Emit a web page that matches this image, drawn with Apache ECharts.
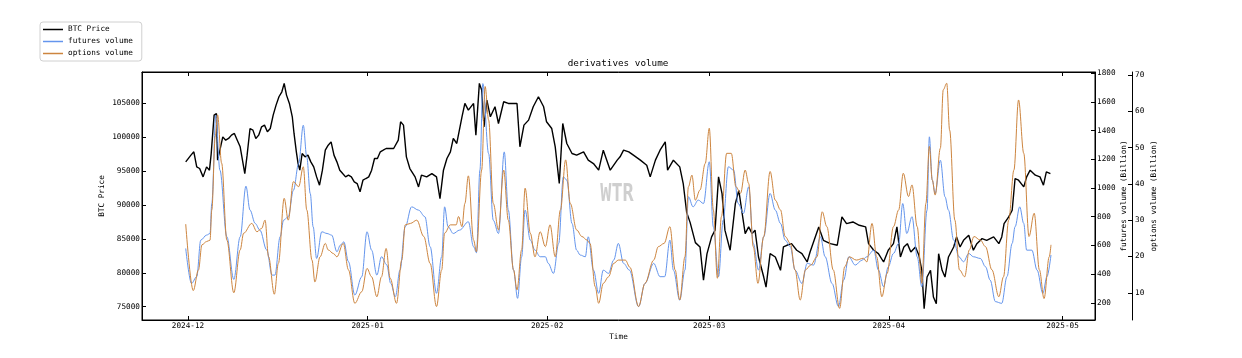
<!DOCTYPE html>
<html>
<head>
<meta charset="utf-8">
<script src="https://cdn.jsdelivr.net/npm/echarts@6/dist/echarts.min.js"></script>
<style>
html,body{margin:0;padding:0;background:#fff;}
#chart{width:1242px;height:358px;}
</style>
</head>
<body>
<div id="chart"></div>
<script>
// x positions are day offsets from 2024-12-01
const monthTicks = [0, 31, 62, 90, 121, 151];
const monthLabels = ['2024-12', '2025-01', '2025-02', '2025-03', '2025-04', '2025-05'];
const priceTicks = [75000, 80000, 85000, 90000, 95000, 100000, 105000];
const futuresTicks = [200, 400, 600, 800, 1000, 1200, 1400, 1600, 1800];
const optionsTicks = [10, 20, 30, 40, 50, 60, 70];
const seriesNames = ['BTC Price', 'futures volume', 'options volume'];

const btcPrice = [
[-0.4,96380],[0.5,97370],[1.0,97860],[1.5,95640],[2.0,95400],[2.6,94160],[3.2,95640],[3.7,95150],[4.0,97600],[4.5,103280],[4.9,103520],[5.1,96630],[5.5,98100],[6.0,100070],[6.5,99580],[7.0,99830],[7.5,100320],[8.0,100570],[8.5,99580],[9.0,98600],[9.3,97120],[9.8,94650],[10.2,97370],[10.7,101300],[11.2,101060],[11.7,99830],[12.2,100320],[12.7,101550],[13.2,101800],[13.7,100810],[14.2,101300],[14.7,103280],[15.2,104750],[15.7,105990],[16.2,106720],[16.6,107960],[17.0,106230],[17.5,105000],[18.0,103030],[18.3,100570],[18.7,97860],[19.0,96130],[19.3,95150],[19.7,97610],[20.2,97120],[20.7,97370],[21.2,96380],[21.7,95640],[22.2,94160],[22.7,92930],[23.2,95150],[23.7,98100],[24.2,98840],[24.7,99330],[25.2,97370],[25.7,96380],[26.2,95150],[26.7,94650],[27.2,94160],[27.7,94410],[28.2,94160],[28.7,93420],[29.2,93180],[29.7,91950],[30.2,93670],[30.7,93920],[31.2,94160],[31.7,95150],[32.2,96870],[32.7,96870],[33.2,97860],[33.7,98100],[34.2,98350],[34.7,98350],
[35.5,98350],[36.3,99580],[36.7,102290],[37.2,101800],[37.7,97120],[38.3,95390],[39.2,94160],[39.8,92680],[40.3,94410],[41.2,94160],[42.1,94650],[42.9,94160],[43.5,90960],[44.1,95150],[44.7,96870],[45.3,97860],[45.8,99830],[46.4,99090],[47.3,103030],[47.8,105000],[48.4,104010],[49.3,105000],[49.7,100320],[50.3,107960],[50.7,106970],[51.1,101550],[51.6,105490],[52.2,103030],[53.0,104510],[53.6,102040],[54.5,105250],[55.3,105000],[56.2,105000],[56.8,105000],[57.3,98600],[58.0,101800],[58.8,102540],[59.6,104510],[60.5,105990],[61.4,104510],[61.9,102290],[62.8,101300],[63.4,98600],[64.1,93180],[64.7,102040],[65.4,99090],[66.3,97610],[67.1,97370],[68.3,97860],[69.1,96630],[70.0,96130],[70.9,95150],[71.7,98100],[72.9,95150],[74.1,96630],
[74.6,97120],[75.2,98100],[76.1,97860],[76.9,97370],[78.1,96630],[79.2,95880],[79.8,94160],[80.7,96630],[81.5,98100],[82.4,99330],[82.8,95150],[83.8,96630],[84.9,95640],[85.5,93180],[86.1,88890],[86.7,87410],[87.6,84460],[88.4,83820],[89.0,78910],[89.6,82800],[90.4,85300],[91.0,86300],[91.6,94160],[92.2,91700],[92.7,86300],[93.6,83330],[94.5,90220],[95.1,92190],[95.6,89240],[96.2,85790],[96.8,86780],[97.4,85790],[97.9,86300],[98.5,82340],[99.4,79380],[99.8,77900],[100.5,82830],[101.4,82340],[102.3,80370],[102.8,83820],[103.4,84070],[104.2,84310],[105.1,83330],[106.0,82830],[106.9,81600],[107.4,83070],[108.9,86780],[109.7,84800],[110.9,84310],[112.1,84070],[112.9,88250],[113.7,87260],[114.8,87510],[115.9,87020],
[117.0,86780],[117.5,84310],[118.4,83330],[119.2,82830],[120.1,81600],[120.9,83330],[121.8,84310],[122.4,86780],[123.0,82340],[123.6,83820],[124.2,84310],[124.8,83070],[125.6,83820],[126.2,82590],[126.7,80370],[127.1,74700],[127.6,79380],[128.2,80370],[128.7,76430],[129.2,75440],[129.6,82830],[130.2,80370],[130.7,79380],[131.3,82340],[132.2,83820],[132.7,85300],[133.3,83820],[133.9,84800],[134.8,85540],[135.6,83330],[136.2,84310],[137.1,85050],[137.9,84800],[139.1,85300],[140.0,84310],[140.5,85300],[140.9,87260],[141.7,88250],[142.3,89240],[142.8,93920],[143.4,93670],[144.3,92680],[144.8,94160],[145.4,95150],[146.3,94410],[147.1,94160],[147.7,92930],[148.2,94900],[148.9,94650]
];

const futuresVolume = [
[-0.4,579],[0.6,335],[1.5,382],[2.2,637],[3.2,672],[3.8,683],[4.1,892],[4.8,1508],[5.5,1125],[6.7,660],[7.9,363],[9.0,660],[10.0,1013],[10.7,846],[11.6,753],[12.4,707],[13.6,567],[14.5,393],[15.0,393],[15.9,660],[16.5,776],[17.3,800],[18.2,985],[19.1,1171],[19.9,1438],[20.5,1217],[21.1,962],[21.6,730],[22.2,509],[23.1,695],[24.0,683],[24.8,672],[25.7,556],[26.3,602],[26.9,625],[27.7,486],[28.8,254],[30.0,382],[30.9,695],[31.7,567],[32.6,393],[33.4,521],[34.3,465],[35.0,335],[35.8,242],[36.6,428],[37.5,730],[38.6,869],[39.8,846],[40.9,800],[41.8,591],[42.9,266],[43.8,521],[44.3,869],[44.9,730],[45.8,683],[46.9,707],[48.4,765],[49.3,591],[49.8,549],[50.4,1125],[50.9,1728],[51.9,1240],[52.7,776],[53.6,683],[54.6,1252],[55.3,846],[56.2,428],[56.9,231],[57.6,521],[58.2,846],[59.1,637],[59.9,567],[60.8,521],[61.7,521],[62.2,475],[63.1,405],[64.0,614],[64.8,1078],[65.4,1055],[66.3,753],[67.1,567],[67.7,533],[68.6,521],[69.1,660],[70.0,428],[70.9,266],[71.7,428],[72.6,405],[73.5,498],[74.3,614],[75.2,475],[76.2,428],[77.8,173],[78.9,335],[80.4,475],[81.5,382],[82.3,382],[83.2,637],[83.8,428],[84.9,219],[85.8,428],[86.4,939],[87.2,869],[88.1,916],[89.0,892],[90.0,1183],[90.7,730],[91.6,382],[92.4,776],[93.3,1148],[94.2,1125],[95.0,892],[95.9,823],[96.8,1008],[97.6,614],[98.5,428],[99.4,660],[100.5,962],[101.4,846],[102.3,753],[103.1,637],[104.0,591],[104.8,428],[106.0,335],[106.9,475],[108.0,463],[109.2,660],[110.0,521],[111.2,335],[112.3,173],[113.2,358],[114.1,521],[115.2,463],[116.4,498],[117.2,521],[118.4,567],[119.2,428],[120.1,312],[120.9,451],[121.8,544],[122.7,614],[123.4,892],[124.1,683],[125.0,800],[125.9,521],[126.7,312],[127.6,846],[128.0,1357],[128.5,1055],[129.0,962],[129.9,1194],[130.7,939],[131.3,846],[132.2,637],[133.1,521],[133.9,486],[134.8,544],[135.6,521],[136.8,509],[137.7,451],[138.5,358],[139.4,208],[140.5,196],[141.4,382],[142.3,614],[142.8,730],[143.6,869],[144.3,753],[144.8,567],[145.7,567],[146.6,428],[147.6,266],[148.3,382],[149.0,533]
];

const optionsVolume = [
[-0.4,28.9],[0.9,10.6],[1.8,16.3],[2.4,23.2],[3.2,24.1],[3.8,24.5],[4.1,32.8],[4.7,53],[5.1,59],[5.8,45.7],[6.7,24.5],[7.9,10],[9.0,21.8],[9.6,26.4],[11.0,29.1],[11.9,26.8],[12.7,27.7],[13.3,30],[13.9,19.9],[14.9,9.6],[15.6,18.1],[16.6,36],[17.3,30],[18.2,40.6],[19.1,39.2],[19.9,44.7],[20.5,32.8],[21.4,19],[21.9,13],[22.8,19.9],[23.7,23.6],[24.2,21.8],[25.1,20.8],[25.7,19.9],[26.8,23.6],[27.7,16.3],[28.8,7.1],[30.0,10.3],[30.9,16.7],[31.7,14.4],[32.6,8.9],[33.4,14.4],[34.2,22.2],[34.9,14],[36.0,7.1],[36.9,19],[37.5,28.7],[38.4,29.1],[39.5,30],[40.7,25.5],[41.8,18.1],[42.9,6.2],[43.8,16.3],[44.3,26.4],[45.3,28.7],[46.3,28.7],[46.7,31],[47.3,28.2],[47.8,34.6],[48.4,42.2],[49.3,24.5],[49.8,21.3],[50.7,43.8],[51.3,66.8],[51.9,57.6],[52.7,34.6],[53.6,27.3],[54.5,43.8],[55.3,30],[56.2,16.3],[56.8,10.8],[57.6,21.8],[58.2,38.8],[59.1,26.4],[59.9,19.9],[60.8,26.8],[61.7,22.7],[62.5,28.7],[63.4,19.9],[64.3,32.8],[65.2,46.6],[66.0,34.6],[67.1,27.3],[68.0,25.5],[68.9,24.5],[69.4,23.6],[70.3,11.7],[70.9,7.1],[71.7,12.6],[72.6,14.4],[73.5,18.1],[74.3,19],[75.5,19],[76.3,17],[77.8,6.2],[78.9,12.6],[80.4,19],[81.2,22.7],[82.2,23.6],[83.2,28.2],[84.1,16.3],[84.9,8],[85.8,19.9],[86.4,39.2],[87.0,42.4],[87.6,35.5],[88.4,38.3],[89.3,45.6],[90.0,55.3],[90.7,32.8],[91.4,14],[92.1,31],[93.0,48.4],[93.8,48.4],[94.6,39.2],[95.4,37.4],[96.2,43.8],[96.8,40.1],[97.6,22.7],[98.4,12.6],[99.4,25.5],[100.5,43.4],[101.4,35.5],[102.3,32.8],[103.1,25.5],[104.0,23.6],[104.8,16.3],[105.7,8],[106.6,16.3],[107.5,17.6],[108.6,19.9],[109.5,32.3],[110.3,28.2],[111.4,16.3],[112.5,5.7],[113.4,17.2],[114.2,19.9],[115.4,19],[116.6,19.5],[117.2,18.5],[118.1,29.1],[118.9,19.9],[119.8,8.9],[120.7,15.3],[121.8,28.2],[122.7,32.8],[123.5,42.9],[124.4,36.5],[125.0,39.7],[125.9,28.2],[126.7,12.6],[127.4,34.6],[128.0,50.3],[128.5,41.1],[129.0,36.9],[129.9,49.8],[130.4,65.9],[131.0,67.7],[131.5,54.8],[132.4,30],[133.2,16.3],[134.1,14.4],[134.9,21.8],[135.7,25.5],[136.8,24.5],[137.7,22.7],[138.8,16.3],[140.0,8.9],[140.8,14.4],[141.7,30],[142.6,43.8],[143.4,63.1],[144.3,48.4],[145.2,25.5],[146.1,31.9],[147.0,16.3],[147.8,8.4],[148.7,19.9],[149.0,23.2]
];

const FONT = 'DejaVu Sans Mono';
const chart = echarts.init(document.getElementById('chart'), null, {renderer: 'canvas'});

function tickAxis(extra) {
  return Object.assign({
    axisLine: {show: true, onZero: false, lineStyle: {color: '#000', width: 1}},
    splitLine: {show: false},
    nameMoveOverlap: false,
    nameTextStyle: {fontFamily: FONT, fontSize: 7.7, color: '#000'}
  }, extra);
}
const plain = v => String(v);

const option = {
  animation: false,
  backgroundColor: '#fff',
  textStyle: {fontFamily: FONT},
  grid: {left: 142, top: 72, width: 953, height: 248, show: true, borderColor: '#000', borderWidth: 1, backgroundColor: 'transparent'},
  legend: {
    orient: 'vertical', left: 40, top: 22,
    padding: [2.5, 9, 2.5, 3], itemGap: 2, itemWidth: 20, itemHeight: 1.5,
    icon: 'rect', borderColor: '#d0d0d0', borderWidth: 1, borderRadius: 3,
    backgroundColor: '#fff',
    textStyle: {fontFamily: FONT, fontSize: 7.7, color: '#000', lineHeight: 10},
    data: seriesNames
  },
  xAxis: [
    tickAxis({
      type: 'value', min: -7.95, max: 156.6, position: 'bottom',
      name: 'Time', nameLocation: 'middle', nameGap: 13,
      axisTick: {show: true, inside: true, length: 4, customValues: monthTicks, lineStyle: {color: '#000'}},
      axisLabel: {show: true, margin: 2, fontFamily: FONT, fontSize: 7.7, color: '#000', customValues: monthTicks,
        formatter: v => monthLabels[monthTicks.indexOf(v)] || ''}
    }),
    tickAxis({
      type: 'value', min: -7.95, max: 156.6, position: 'top',
      axisTick: {show: true, inside: true, length: 4, customValues: monthTicks, lineStyle: {color: '#000'}},
      axisLabel: {show: false}
    })
  ],
  yAxis: [
    tickAxis({
      type: 'value', min: 73040, max: 109640, position: 'left',
      name: 'BTC Price', nameLocation: 'middle', nameGap: 36, nameRotate: 90,
      axisTick: {show: true, inside: true, length: 4, customValues: priceTicks, lineStyle: {color: '#000'}},
      axisLabel: {show: true, margin: 2, fontFamily: FONT, fontSize: 7.7, color: '#000', customValues: priceTicks, formatter: plain}
    }),
    tickAxis({
      type: 'value', min: 80, max: 1809, position: 'right',
      name: 'futures volume (Billion)', nameLocation: 'middle', nameGap: 25, nameRotate: 90,
      axisTick: {show: true, inside: true, length: 4, customValues: futuresTicks, lineStyle: {color: '#000'}},
      axisLabel: {show: true, margin: 2, fontFamily: FONT, fontSize: 7.7, color: '#000', customValues: futuresTicks, formatter: plain}
    }),
    tickAxis({
      type: 'value', min: 2.5, max: 70.8, position: 'right', offset: 37,
      name: 'options volume (Billion)', nameLocation: 'middle', nameGap: 18, nameRotate: 90,
      axisTick: {show: true, inside: true, length: 4, customValues: optionsTicks, lineStyle: {color: '#000'}},
      axisLabel: {show: true, margin: 3, fontFamily: FONT, fontSize: 7.7, color: '#000', customValues: optionsTicks, formatter: plain}
    })
  ],
  graphic: [
    {type: 'text', x: 617, y: 194.5, z: 0, scaleX: 0.77,
     style: {text: 'WTR', fontFamily: FONT, fontWeight: 'bold', fontSize: 24, fill: '#cfcfcf', align: 'center', verticalAlign: 'middle'}},
    {type: 'text', x: 618, y: 63.3, style: {text: 'derivatives volume', fontFamily: FONT, fontSize: 9.3, fill: '#000', align: 'center', verticalAlign: 'middle'}}
  ],
  series: [
    {name: seriesNames[0], type: 'line', xAxisIndex: 0, yAxisIndex: 0, data: btcPrice, showSymbol: false, symbol: 'none',
     color: '#000', lineStyle: {color: '#000', width: 1.4}, z: 3},
    {name: seriesNames[1], type: 'line', xAxisIndex: 0, yAxisIndex: 1, data: futuresVolume, showSymbol: false, symbol: 'none',
     smooth: 0.35, smoothMonotone: 'x', color: '#6495ED', lineStyle: {color: '#6495ED', width: 1}, z: 4},
    {name: seriesNames[2], type: 'line', xAxisIndex: 0, yAxisIndex: 2, data: optionsVolume, showSymbol: false, symbol: 'none',
     smooth: 0.35, smoothMonotone: 'x', color: '#CD853F', lineStyle: {color: '#CD853F', width: 1}, z: 5}
  ]
};
chart.setOption(option);
</script>
</body>
</html>
